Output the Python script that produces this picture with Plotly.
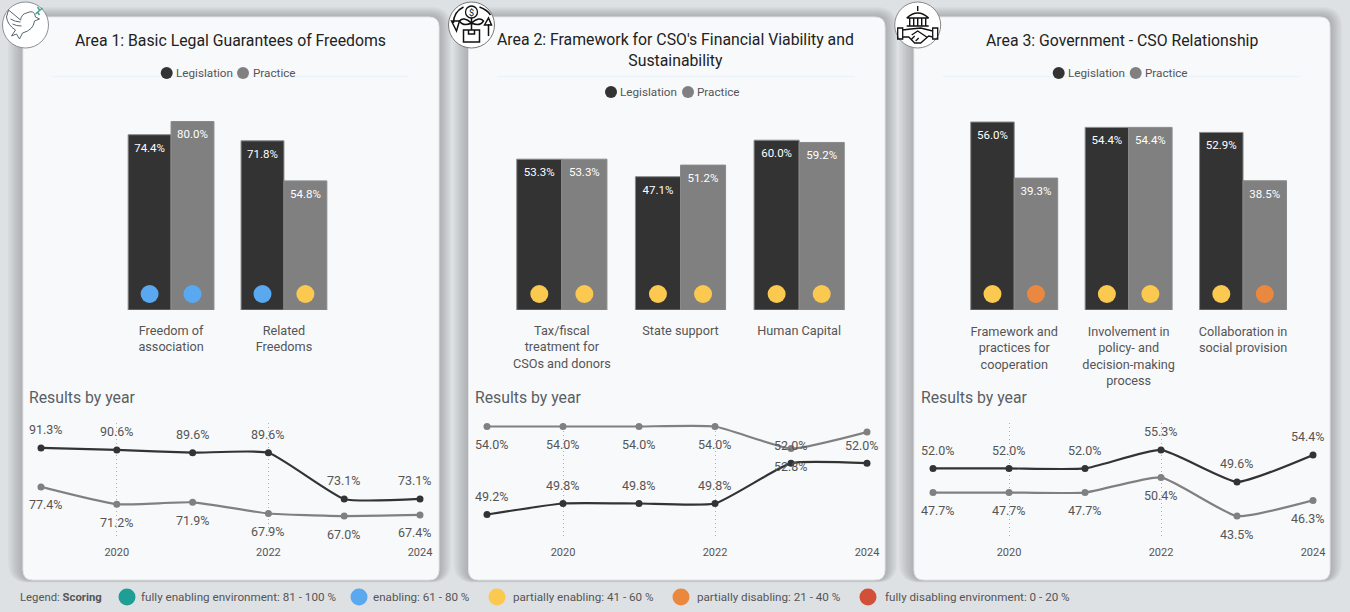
import plotly.graph_objects as go

W, H = 1350, 612
FONT = "Roboto"
DARK, GREY = "#333333", "#808080"
TXT = "#555555"

# ---------- data ----------
bar_categories_1 = ["Freedom of<br>association", "Related<br>Freedoms"]
bar_legislation_1 = [74.4, 71.8]
bar_practice_1 = [80.0, 54.8]
bar_categories_2 = ["Tax/fiscal<br>treatment for<br>CSOs and donors", "State support", "Human Capital"]
bar_legislation_2 = [53.3, 47.1, 60.0]
bar_practice_2 = [53.3, 51.2, 59.2]
bar_categories_3 = ["Framework and<br>practices for<br>cooperation", "Involvement in<br>policy- and<br>decision-making<br>process", "Collaboration in<br>social provision"]
bar_legislation_3 = [56.0, 54.4, 52.9]
bar_practice_3 = [39.3, 54.4, 38.5]

years = [2019, 2020, 2021, 2022, 2023, 2024]
year_ticks = [2020, 2022, 2024]
line_legislation_1 = [91.3, 90.6, 89.6, 89.6, 73.1, 73.1]
line_practice_1 = [77.4, 71.2, 71.9, 67.9, 67.0, 67.4]
line_legislation_2 = [49.2, 49.8, 49.8, 49.8, 52.0, 52.0]
line_practice_2 = [54.0, 54.0, 54.0, 54.0, 52.8, 53.7]
practice_2_shown = [True, True, True, True, True, False]
line_legislation_3 = [52.0, 52.0, 52.0, 55.3, 49.6, 54.4]
line_practice_3 = [47.7, 47.7, 47.7, 50.4, 43.5, 46.3]

band_names = ["fully enabling environment: 81 - 100 %", "enabling: 61 - 80 %", "partially enabling: 41 - 60 %",
              "partially disabling: 21 - 40 %", "fully disabling environment: 0 - 20 %"]
band_colors = ["#1f9e96", "#5aa9f0", "#fbc94f", "#ea8840", "#d24f38"]
band_floor = [81, 61, 41, 21, 0]


def band_color(v):
    for floor, c in zip(band_floor, band_colors):
        if round(v) >= floor:
            return c
    return band_colors[-1]


def px(x):
    return x / W


def py(y):
    return 1 - y / H


def rrect(x0, y0, x1, y1, r):
    return (f"M{px(x0+r)},{py(y0)} L{px(x1-r)},{py(y0)} Q{px(x1)},{py(y0)} {px(x1)},{py(y0+r)} "
            f"L{px(x1)},{py(y1-r)} Q{px(x1)},{py(y1)} {px(x1-r)},{py(y1)} L{px(x0+r)},{py(y1)} "
            f"Q{px(x0)},{py(y1)} {px(x0)},{py(y1-r)} L{px(x0)},{py(y0+r)} Q{px(x0)},{py(y0)} {px(x0+r)},{py(y0)} Z")


shapes, ann = [], []


def text(x, y, s, size=12, color=TXT, anchor="center", family=FONT, **kw):
    ann.append(dict(xref="paper", yref="paper", x=px(x), y=py(y), text=s, showarrow=False,
                    xanchor=anchor, yanchor="middle", font=dict(family=family, size=size, color=color),
                    borderpad=0, **kw))


def circle(cx, cy, r, fill, line=None, lw=1):
    shapes.append(dict(type="circle", xref="paper", yref="paper", x0=px(cx - r), x1=px(cx + r),
                       y0=py(cy + r), y1=py(cy - r), fillcolor=fill, layer="above",
                       line=dict(color=line or fill, width=lw if line else 0)))


def icon_path(cx, cy, segs, color="#222222", width=1.0, fill="rgba(0,0,0,0)"):
    out = []
    for s in segs:
        out.append(" ".join(
            (f"{t}" if isinstance(t, str) else f"{px(cx + t[0])},{py(cy + t[1])}") for t in s))
    shapes.append(dict(type="path", xref="paper", yref="paper", path=" ".join(out), layer="above",
                       fillcolor=fill, line=dict(color=color, width=width)))


# ---------- cards ----------
cards = [(23, 439), (468.5, 885), (914, 1330)]
for x0, x1 in cards:
    for k in range(10, 0, -1):
        shapes.append(dict(type="path", xref="paper", yref="paper", layer="below",
                           path=rrect(x0 - k * 1.5, 17 - k * 1.0, x1 + k * 1.2, 580 + k * 0.25, 10 + k),
                           fillcolor="rgba(60,60,60,0.033)", line=dict(width=0)))
    shapes.append(dict(type="path", xref="paper", yref="paper", layer="below",
                       path=rrect(x0, 17, x1, 580, 10), fillcolor="#f8f9fb",
                       line=dict(color="#e3e5e8", width=1)))

# ---------- panels ----------
panels = [
    dict(title="Area 1: Basic Legal Guarantees of Freedoms", tx=230, ty=[41], legy=73,
         leg=(166.7, 175, 243, 252), rule=(52, 408), res=28,
         cats=bar_categories_1, bl=bar_legislation_1, bp=bar_practice_1,
         cx=(114.6, 340.4), scale=2.356, standoff=11,
         lx=(41, 420), lr=(59.16, 100.2), ll=line_legislation_1, lp=line_practice_1, shown=[True] * 6),
    dict(title="Area 2: Framework for CSO's Financial Viability and<br>Sustainability", tx=675, ty=[50], legy=92,
         leg=(611, 619, 688, 696), rule=(497, 855), res=474,
         cats=bar_categories_2, bl=bar_legislation_2, bp=bar_practice_2,
         cx=(502.5, 858.5), scale=2.83, standoff=11,
         lx=(487, 867), lr=(47.92, 54.19), ll=line_legislation_2, lp=line_practice_2, shown=practice_2_shown),
    dict(title="Area 3: Government - CSO Relationship", tx=1122, ty=[41], legy=73,
         leg=(1058.7, 1067, 1135.7, 1144), rule=(943, 1300), res=920,
         cats=bar_categories_3, bl=bar_legislation_3, bp=bar_practice_3,
         cx=(957, 1300.25), scale=3.357, standoff=12,
         lx=(933, 1313), lr=(39.6, 60.1), ll=line_legislation_3, lp=line_practice_3, shown=[True] * 6),
]

fig = go.Figure()
BAR_TOP, BAR_BOT = 100, 310
LINE_TOP, LINE_BOT = 423, 538
layout_axes = {}
for i, p in enumerate(panels):
    a = 2 * i + 1
    b = a + 1
    xa, ya = f"x{a}", f"y{a}"
    xb, yb = f"x{b}", f"y{b}"
    # header
    text(p["tx"], p["ty"][0], p["title"], size=15.8, color="#222222")
    shapes.append(dict(type="line", xref="paper", yref="paper", x0=px(p["rule"][0]), x1=px(p["rule"][1]),
                       y0=py(76.5), y1=py(76.5), layer="below", line=dict(color="#edf3fb", width=1.5)))
    c1, t1, c2, t2 = p["leg"]
    circle(c1, p["legy"], 6, DARK)
    circle(c2, p["legy"], 6, GREY)
    text(t1, p["legy"], "Legislation", size=11.7, anchor="left")
    text(t2, p["legy"], "Practice", size=11.7, anchor="left")
    text(p["res"], 397, "Results by year", size=15.8, anchor="left", color="#5a5f64")

    # bars
    for name, vals, col, og in (("Legislation", p["bl"], DARK, "L"), ("Practice", p["bp"], GREY, "P")):
        fig.add_trace(go.Bar(x=p["cats"], y=vals, name=name, xaxis=xa, yaxis=ya, offsetgroup=og,
                             alignmentgroup=f"a{i}", marker=dict(color=col, line=dict(color="#8a8a8a", width=1)),
                             showlegend=False))
        fig.add_trace(go.Scatter(x=p["cats"], y=[16 / p["scale"]] * len(vals), mode="markers", xaxis=xa, yaxis=ya,
                                 offsetgroup=og, alignmentgroup=f"a{i}", orientation="v",
                                 marker=dict(size=18, color=[band_color(v) for v in vals]),
                                 showlegend=False, hoverinfo="skip"))
        fig.add_trace(go.Scatter(x=p["cats"], y=[v - 14 / p["scale"] for v in vals], mode="text", xaxis=xa, yaxis=ya,
                                 offsetgroup=og, alignmentgroup=f"a{i}", orientation="v",
                                 text=[f"{v:.1f}%" for v in vals], textposition="middle center",
                                 textfont=dict(family=FONT, size=11.5, color="#ffffff"),
                                 showlegend=False, hoverinfo="skip"))
    layout_axes[f"xaxis{a}"] = dict(domain=[px(p["cx"][0]), px(p["cx"][1])], anchor=ya, type="category",
                                    range=[-0.5, len(p["cats"]) - 0.5], showgrid=False, showline=False,
                                    ticks="", ticklabelstandoff=p["standoff"], zeroline=False, fixedrange=True,
                                    automargin=False, tickfont=dict(family=FONT, size=12.7, color=TXT))
    layout_axes[f"yaxis{a}"] = dict(domain=[py(BAR_BOT), py(BAR_TOP)], anchor=xa, automargin=False,
                                    range=[0, (BAR_BOT - BAR_TOP) / p["scale"]], visible=False, fixedrange=True)

    # lines
    for name, vals, col, sign, shown in (("Legislation", p["ll"], DARK, 1, [True] * 6),
                                         ("Practice", p["lp"], GREY, -1, p["shown"])):
        fig.add_trace(go.Scatter(x=years, y=vals, mode="lines+markers", name=name, xaxis=xb, yaxis=yb,
                                 offsetgroup=f"line{i}", alignmentgroup=f"line{i}", orientation="v",
                                 line=dict(color=col, width=2.2, shape="spline", smoothing=0.45),
                                 marker=dict(color=col, size=7), cliponaxis=False, showlegend=False))
        for k, (yr, v) in enumerate(zip(years, vals)):
            if not shown[k]:
                continue
            ann.append(dict(xref=xb, yref=yb, x=yr, y=v, text=f"{v:.1f}%", showarrow=False,
                            yshift=sign * 18, xshift={0: 5, 5: -5}.get(k, 0),
                            font=dict(family=FONT, size=12.5, color=TXT)))
    layout_axes[f"xaxis{b}"] = dict(domain=[px(p["lx"][0]), px(p["lx"][1])], anchor=yb, range=[2019, 2024],
                                    tickvals=year_ticks, ticktext=[str(y) for y in year_ticks], showgrid=True,
                                    griddash="1px,3px", gridcolor="#aeb0b3", gridwidth=1, zeroline=False, showline=False,
                                    ticks="", ticklabelstandoff=6, fixedrange=True, automargin=False,
                                    tickfont=dict(family=FONT, size=11, color=TXT))
    layout_axes[f"yaxis{b}"] = dict(domain=[py(LINE_BOT), py(LINE_TOP)], anchor=xb, range=list(p["lr"]),
                                    visible=False, fixedrange=True, automargin=False)

# ---------- bottom legend ----------
text(19, 597, "Legend: <b>Scoring</b>", size=11.3, anchor="left")
legend_pos = [(127, 140), (359, 372), (497, 512), (681, 696), (868, 884)]
for (cx, tx), nm, col in zip(legend_pos, band_names, band_colors):
    circle(cx, 597, 8.5, col)
    text(tx, 597, nm, size=11.65, anchor="left")

# ---------- icons ----------
for cx, line in ((25.5, "#8a9094"), (471.5, "#777777"), (917.7, "#888888")):
    circle(cx, 25, 23, "#ffffff", line, 1)

# dove
icon_path(25.5, 25, [["M", (-17, -15), "Q", (-12, -11), (-5, -5), "Q", (-4, -11), (1, -12), "Q", (9, -16), (10, -8),
                      "L", (14, -6), "L", (9, -4), "Q", (8, 5), (-3, 8), "L", (-6, 14), "L", (-9, 9), "L", (-14, 11),
                      "L", (-10, 5), "Q", (-18, 0), (-19, -8), "Z"],
                     ["M", (-15, -6), "Q", (-10, -3), (-5, -3)], ["M", (-13, -1), "Q", (-9, 1), (-4, 1)]],
          color="#56666e", width=1)
icon_path(25.5, 25, [["M", (10, -11), "L", (17, -17)], ["M", (12, -13), "L", (14, -10)], ["M", (14, -15), "L", (12, -18)]],
          color="#3fa08c", width=1.4)
# money tree: coin, sprout, parcel, circling arrows
icon_path(471.5, 24, [["M", (-8, 6), "L", (8, 6), "L", (8, 18), "L", (-8, 18), "Z"],
                      ["M", (-3, 6), "L", (-3, 10), "L", (3, 10), "L", (3, 6)],
                      ["M", (0, 6), "L", (0, -6)],
                      ["M", (0, -1), "Q", (-8, -8), (-12, -3), "Q", (-8, 3), (0, -1)],
                      ["M", (0, -1), "Q", (8, -8), (12, -3), "Q", (8, 3), (0, -1)]],
          color="#111111", width=1.5, fill="#ffffff")
icon_path(471.5, 24, [["M", (-8, -17), "Q", (-18, -12), (-18, -1)], ["M", (-20, -3), "L", (-15, 7), "L", (-12, -3), "Z"],
                      ["M", (8, -17), "Q", (16, -14), (19, -9)],
                      ["M", (17, 12), "L", (17, 0)], ["M", (13, 1), "L", (17, -6), "L", (20, 1), "Z"]],
          color="#111111", width=1.5)
circle(471.5, 12, 6, "#ffffff", "#111111", 1.3)
text(471.5, 12.5, "$", size=9, color="#111111")
# building and handshake
icon_path(917.7, 25, [["M", (-11, -7), "L", (11, -7)], ["M", (-11, 1), "L", (11, 1)],
                      ["M", (-11, -7), "Q", (0, -17), (11, -7)], ["M", (0, -14), "L", (0, -19)],
                      ["M", (-8, -7), "L", (-8, 1)], ["M", (-4, -7), "L", (-4, 1)], ["M", (0, -7), "L", (0, 1)],
                      ["M", (4, -7), "L", (4, 1)], ["M", (8, -7), "L", (8, 1)]],
          color="#111111", width=1.4)
icon_path(917.7, 25, [["M", (-20, 3), "L", (-15, 3), "L", (-15, 14), "L", (-20, 14), "Z"],
                      ["M", (20, 3), "L", (15, 3), "L", (15, 14), "L", (20, 14), "Z"],
                      ["M", (-15, 5), "L", (-7, 4), "L", (3, 3), "L", (15, 6)],
                      ["M", (-15, 12), "L", (-9, 12), "L", (-3, 18), "L", (3, 18), "L", (11, 11), "L", (15, 12)],
                      ["M", (-6, 10), "L", (0, 6), "L", (9, 12)], ["M", (-6, 14), "L", (-3, 11)], ["M", (-2, 16), "L", (1, 13)]],
          color="#111111", width=1.3)

fig.update_layout(width=W, height=H, margin=dict(l=0, r=0, t=0, b=0), autosize=False,
                  paper_bgcolor="#dde1e4", plot_bgcolor="rgba(0,0,0,0)", barmode="group", bargap=0.24, bargroupgap=0,
                  scattermode="group", scattergap=0.24, showlegend=False, shapes=shapes, annotations=ann,
                  font=dict(family=FONT, color=TXT), **layout_axes)

fig.write_html("out.html", config={"displayModeBar": False},
               post_script="document.body.style.margin='0';document.body.style.background='#dde1e4';")
